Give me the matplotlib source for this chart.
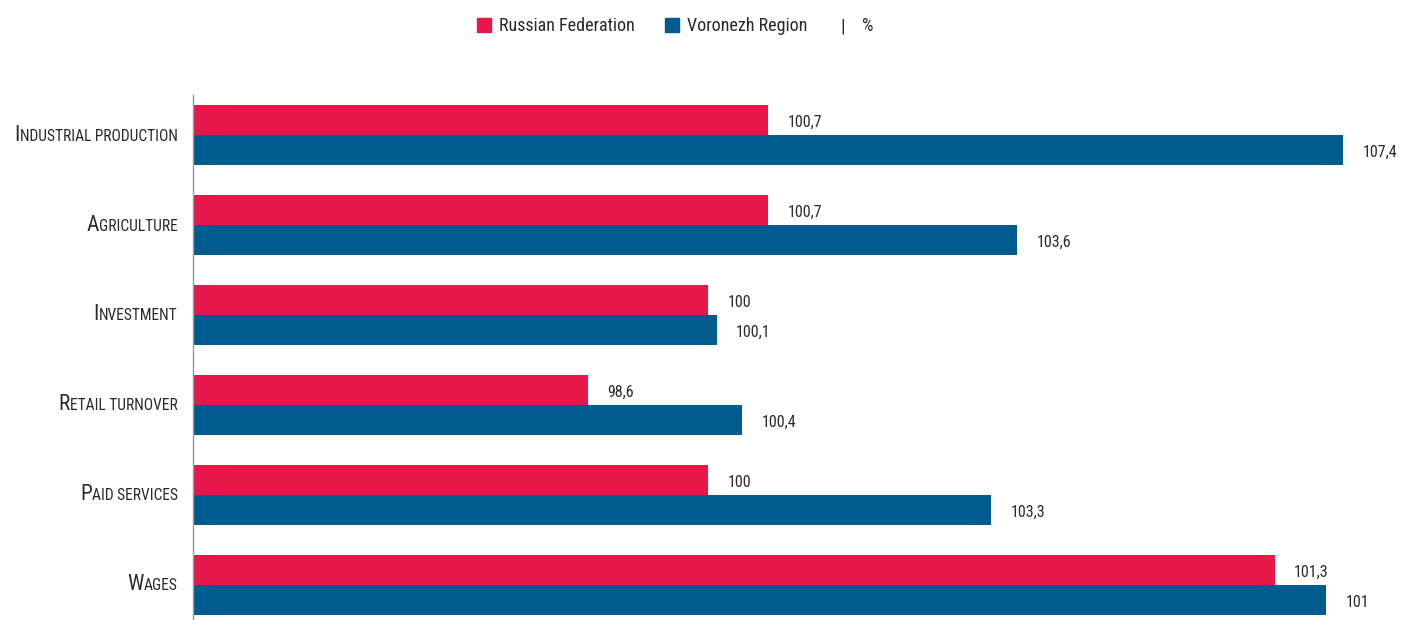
import matplotlib
matplotlib.use("Agg")
import matplotlib.pyplot as plt
import numpy as np
from matplotlib.offsetbox import TextArea, HPacker, AnnotationBbox
from matplotlib.patches import Patch

categories = ["Industrial production", "Agriculture", "Investment",
              "Retail turnover", "Paid services", "Wages"]
russia = [100.7, 100.7, 100.0, 98.6, 100.0, 106.6]
voronezh = [107.4, 103.6, 100.1, 100.4, 103.3, 107.2]
russia_labels = ["100,7", "100,7", "100", "98,6", "100", "101,3"]
voronezh_labels = ["107,4", "103,6", "100,1", "100,4", "103,3", "101"]
series_names = ["Russian Federation", "Voronezh Region"]

RED = "#E8174B"
BLUE = "#005B8F"
TXT = "#2a2a2a"
FONT = ["Roboto Condensed", "Roboto", "DejaVu Sans"]

fig = plt.figure(figsize=(14.01, 6.2), dpi=100)
ax = fig.add_axes([193 / 1401, 0, (1395 - 193) / 1401, 525 / 620])

y = np.arange(len(categories))
h = 1 / 3
base = 94
ax.barh(y - h / 2, np.array(russia) - base, left=base, height=h, color=RED)
ax.barh(y + h / 2, np.array(voronezh) - base, left=base, height=h, color=BLUE)

ax.set_xlim(94, 108)
ax.set_ylim(5 + 35 / 90, -40 / 90)

for i in range(len(categories)):
    ax.annotate(russia_labels[i], (russia[i], y[i] - h / 2), xytext=(14, -1.5),
                textcoords="offset points", va="center", ha="left",
                fontsize=11.5, family=FONT, color=TXT)
    ax.annotate(voronezh_labels[i], (voronezh[i], y[i] + h / 2), xytext=(14, -1.5),
                textcoords="offset points", va="center", ha="left",
                fontsize=11.5, family=FONT, color=TXT)

# small-caps category labels
for i, cat in enumerate(categories):
    first = TextArea(cat[0].upper(), textprops=dict(fontsize=15.5, family=FONT, color=TXT))
    rest = TextArea(cat[1:].upper(), textprops=dict(fontsize=11.2, family=FONT, color=TXT))
    pack = HPacker(children=[first, rest], align="baseline", pad=0, sep=0)
    ab = AnnotationBbox(pack, (0, y[i]), xycoords=ax.get_yaxis_transform(),
                        xybox=(-11, 0), boxcoords="offset points",
                        box_alignment=(1, 0.5), frameon=False, pad=0)
    ax.add_artist(ab)

for s in ["top", "right", "bottom"]:
    ax.spines[s].set_visible(False)
ax.spines["left"].set_color("#999999")
ax.spines["left"].set_linewidth(1.0)
ax.set_xticks([])
ax.set_yticks([])

handles = [Patch(color=RED), Patch(color=BLUE)]
fig.legend(handles, series_names, loc="center", bbox_to_anchor=(642 / 1401, 1 - 26 / 620),
           ncol=2, frameon=False, prop=dict(family=FONT, size=13),
           handlelength=0.8, handleheight=0.8, handletextpad=0.4, columnspacing=1.7,
           labelcolor=TXT)
fig.text(843 / 1401, 1 - 26 / 620, "|", ha="center", va="center", fontsize=14, family=FONT, color=TXT)
fig.text(868 / 1401, 1 - 26 / 620, "%", ha="center", va="center", fontsize=13, family=FONT, color=TXT)

fig.savefig("out.png", dpi=100)
